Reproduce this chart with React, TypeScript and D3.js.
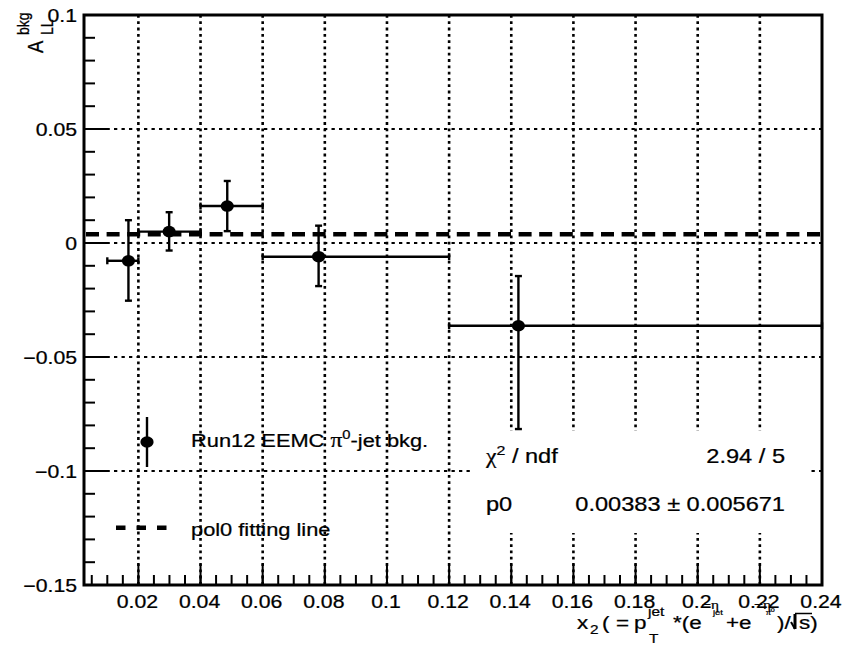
import React from "react";
import * as d3 from "d3";

// Measured A_LL of the background sample versus x2
const xVals = [0.0168, 0.0299, 0.0486, 0.078, 0.1423];
const xLow = [0.01, 0.02, 0.04, 0.06, 0.12];
const xHigh = [0.02, 0.04, 0.06, 0.12, 0.24];
const yVals = [-0.0078, 0.005, 0.0162, -0.006, -0.0363];
const yErrUp = [0.0178, 0.0085, 0.011, 0.0136, 0.0218];
const yErrDown = [0.0175, 0.0083, 0.011, 0.0129, 0.0453];

// Constant (pol0) fit result
const fitP0 = 0.00383;
const fitP0Err = 0.005671;
const chi2 = 2.94;
const ndf = 5;

// Axis ticks
const xMajorTicks = [0.02, 0.04, 0.06, 0.08, 0.1, 0.12, 0.14, 0.16, 0.18, 0.2, 0.22, 0.24];
const xTickLabels = ["0.02", "0.04", "0.06", "0.08", "0.1", "0.12", "0.14", "0.16", "0.18", "0.2", "0.22", "0.24"];
const yMajorTicks = [-0.15, -0.1, -0.05, 0, 0.05, 0.1];
const yTickLabels = ["\u22120.15", "\u22120.1", "\u22120.05", "0", "0.05", "0.1"];

const legendLabels = ["Run12 EEMC ", "pol0 fitting line"];

const W = 855;
const H = 646;
const SANS = "'Liberation Sans', Arial, Helvetica, sans-serif";
const SERIF = "'Liberation Serif', 'DejaVu Serif', serif";
const SX = 1.18; // horizontal glyph stretch

type TProps = {
  x: number;
  y: number;
  size: number;
  anchor?: "start" | "middle" | "end";
  family?: string;
  children: React.ReactNode;
};

function T({ x, y, size, anchor = "start", family = SANS, children }: TProps) {
  return (
    <g transform={`translate(${x},${y}) scale(${SX},1)`}>
      <text
        fontSize={size}
        textAnchor={anchor}
        fontFamily={family}
        fill="#000"
        stroke="#000"
        strokeWidth={0.25}
      >
        {children}
      </text>
    </g>
  );
}

export default function App() {
  const left = 84;
  const right = 822;
  const top = 15;
  const bottom = 585;

  const x = d3.scaleLinear().domain([0.0025, 0.24]).range([left, right]);
  const y = d3.scaleLinear().domain([-0.15, 0.1]).range([bottom, top]);

  const xMinor = d3.range(0.005, 0.2401, 0.005);
  const yMinor = d3.range(-0.15, 0.1001, 0.01);

  const gridX = xMajorTicks.filter((t) => t < 0.239);
  const gridY = yMajorTicks.filter((t) => t > -0.149 && t < 0.099);

  const cap = 3.5;

  return (
    <svg
      width={W}
      height={H}
      style={{ position: "absolute", left: 0, top: 0, background: "#fff" }}
    >
      <rect x={0} y={0} width={W} height={H} fill="#fff" />

      {/* grid */}
      <g stroke="#000" fill="none">
        {gridX.map((t) => (
          <line
            key={`gx${t}`}
            x1={x(t)}
            x2={x(t)}
            y1={top}
            y2={bottom}
            strokeWidth={2.6}
            strokeDasharray="2.8 3.5"
          />
        ))}
        {gridY.map((t) => (
          <line
            key={`gy${t}`}
            x1={left}
            x2={right}
            y1={y(t)}
            y2={y(t)}
            strokeWidth={2.2}
            strokeDasharray="3.3 4.2"
          />
        ))}
      </g>

      {/* pol0 fit */}
      <line
        x1={left + 2}
        x2={right}
        y1={y(fitP0)}
        y2={y(fitP0)}
        stroke="#000"
        strokeWidth={4.5}
        strokeDasharray="13 7.6"
      />

      {/* data points with error bars */}
      <g stroke="#000" strokeWidth={2.4} fill="#000">
        {xVals.map((xv, i) => {
          const cx = x(xv);
          const cy = y(yVals[i]);
          const yt = y(yVals[i] + yErrUp[i]);
          const yb = y(yVals[i] - yErrDown[i]);
          const xl = x(xLow[i]);
          const xr = x(xHigh[i]);
          return (
            <g key={`p${i}`}>
              <line x1={xl} x2={xr} y1={cy} y2={cy} />
              <line x1={xl} x2={xl} y1={cy - cap} y2={cy + cap} />
              <line x1={xr} x2={xr} y1={cy - cap} y2={cy + cap} />
              <line x1={cx} x2={cx} y1={yt} y2={yb} />
              <line x1={cx - cap} x2={cx + cap} y1={yt} y2={yt} />
              <line x1={cx - cap} x2={cx + cap} y1={yb} y2={yb} />
              <ellipse cx={cx} cy={cy} rx={6.6} ry={5.8} stroke="none" />
            </g>
          );
        })}
      </g>

      {/* fit statistics box */}
      <rect x={470} y={431} width={340} height={102} fill="#fff" />
      <T x={486} y={463} size={20}>
        <tspan fontFamily={SERIF}>{"\u03c7"}</tspan>
        <tspan fontSize={13.5} dy={-8}>2</tspan>
        <tspan dy={8}>{" / ndf"}</tspan>
      </T>
      <T x={785} y={463} size={20} anchor="end">
        {`${chi2.toFixed(2)} / ${ndf}`}
      </T>
      <T x={486} y={511} size={20}>p0</T>
      <T x={785} y={511} size={20} anchor="end">
        {`${fitP0} \u00b1 ${fitP0Err}`}
      </T>

      {/* legend */}
      <line x1={147} x2={147} y1={417} y2={467} stroke="#000" strokeWidth={2.4} />
      <ellipse cx={147} cy={442} rx={6.6} ry={5.8} fill="#000" />
      <T x={191} y={447} size={18.5}>
        {legendLabels[0]}
        <tspan fontFamily={SERIF} fontSize={20}>{"\u03c0"}</tspan>
        <tspan fontSize={12.5} dy={-8}>0</tspan>
        <tspan dy={8}>-jet bkg.</tspan>
      </T>
      <line
        x1={116}
        x2={167}
        y1={527.7}
        y2={527.7}
        stroke="#000"
        strokeWidth={4.5}
        strokeDasharray="9.5 11"
      />
      <T x={191} y={535.5} size={18.5}>
        {legendLabels[1]}
      </T>

      {/* frame */}
      <rect
        x={left}
        y={top}
        width={right - left}
        height={bottom - top}
        fill="none"
        stroke="#000"
        strokeWidth={3}
      />

      {/* axis ticks */}
      <g stroke="#000" strokeWidth={2}>
        {xMinor.map((t) => (
          <line key={`xm${t}`} x1={x(t)} x2={x(t)} y1={bottom} y2={bottom - 10} />
        ))}
        {xMajorTicks.map((t) => (
          <line key={`xM${t}`} x1={x(t)} x2={x(t)} y1={bottom} y2={bottom - 21} />
        ))}
        {yMinor.map((t) => (
          <line key={`ym${t}`} x1={left} x2={left + 11} y1={y(t)} y2={y(t)} />
        ))}
        {yMajorTicks.map((t) => (
          <line key={`yM${t}`} x1={left} x2={left + 25} y1={y(t)} y2={y(t)} />
        ))}
      </g>

      {/* tick labels */}
      {xMajorTicks.map((t, i) => (
        <T key={`xl${t}`} x={x(t) - 1} y={607.5} size={18} anchor="middle">
          {xTickLabels[i]}
        </T>
      ))}
      {yMajorTicks.map((t, i) => (
        <T key={`yl${t}`} x={77} y={y(t) + 6.5} size={18} anchor="end">
          {yTickLabels[i]}
        </T>
      ))}

      {/* y axis title */}
      <g
        transform="translate(43,0) rotate(-90) scale(1,1.2)"
        fontFamily={SANS}
        stroke="#000"
        strokeWidth={0.25}
      >
        <text x={-53} y={0} fontSize={18.5}>A</text>
        <text x={-35} y={8.3} fontSize={14}>LL</text>
        <text x={-35} y={-11.3} fontSize={14}>bkg</text>
      </g>

      {/* x axis title */}
      <g>
        <T x={577} y={629} size={19}>x</T>
        <T x={590} y={634} size={13}>2</T>
        <T x={602} y={629} size={19}>(</T>
        <T x={616} y={629} size={19}>=</T>
        <T x={634} y={629} size={19}>p</T>
        <T x={648} y={616} size={13}>jet</T>
        <T x={649} y={643} size={13}>T</T>
        <T x={673} y={629} size={19}>*(e</T>
        <T x={702} y={609} size={13}>
          {"\u2212"}
          <tspan fontFamily={SERIF}>{"\u03b7"}</tspan>
        </T>
        <T x={713} y={615} size={8}>jet</T>
        <T x={726} y={629} size={19}>+e</T>
        <T x={754} y={609} size={13}>
          {"\u2212"}
          <tspan fontFamily={SERIF}>{"\u03b7"}</tspan>
        </T>
        <T x={766} y={615} size={8}>
          <tspan fontFamily={SERIF}>{"\u03c0"}</tspan>
          <tspan fontSize={6} dy={-3}>0</tspan>
        </T>
        <T x={777} y={629} size={19}>)/</T>
        <line x1={795} x2={795} y1={614} y2={629} stroke="#000" strokeWidth={3} />
        <line x1={791} x2={795} y1={622} y2={629} stroke="#000" strokeWidth={2} />
        <line x1={795} x2={812} y1={613.5} y2={613.5} stroke="#000" strokeWidth={1.5} />
        <T x={799} y={629} size={19}>s)</T>
      </g>
    </svg>
  );
}
